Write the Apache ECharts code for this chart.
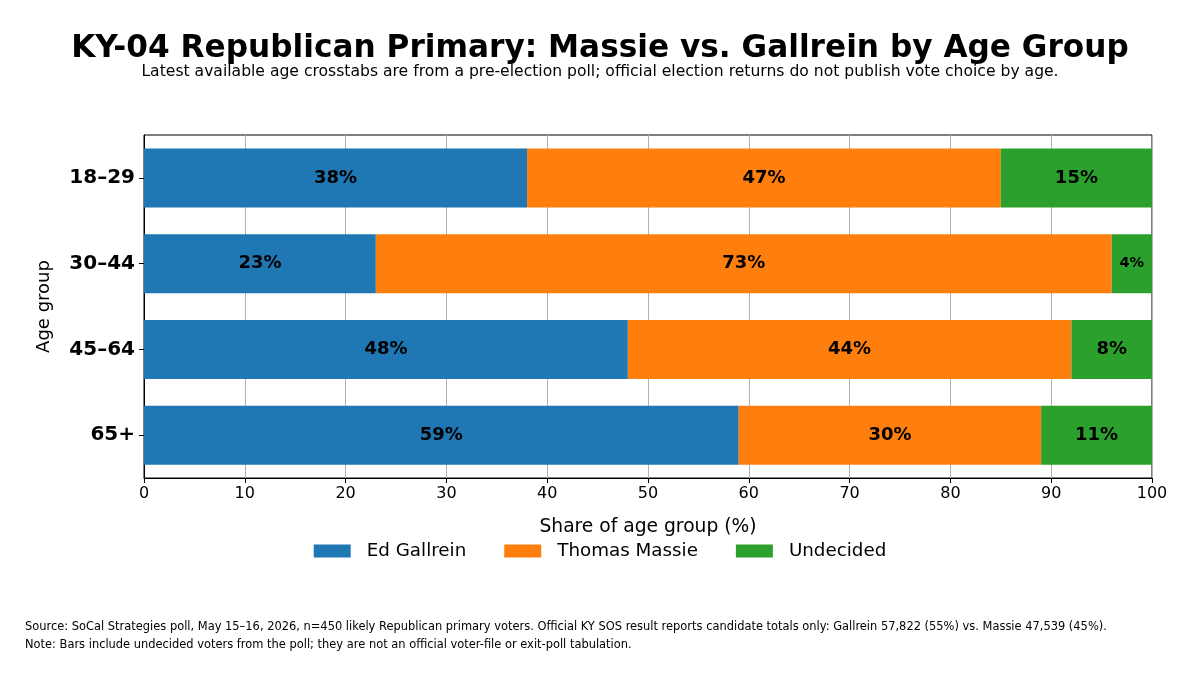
<!DOCTYPE html>
<html lang="en">
<head>
<meta charset="utf-8" />
<title>KY-04 Republican Primary by Age Group</title>
<script src="https://cdn.jsdelivr.net/npm/echarts@6/dist/echarts.min.js"></script>
<style>
  html, body { margin: 0; padding: 0; background: #fff; }
  #chart { width: 1200px; height: 675px; }
</style>
</head>
<body>
<div id="chart"></div>
<script type="text/javascript">
var ageGroups = ['18–29', '30–44', '45–64', '65+'];
var gallrein = [38, 23, 48, 59];
var massie = [47, 73, 44, 30];
var undecided = [15, 4, 8, 11];
var xTicks = [0, 10, 20, 30, 40, 50, 60, 70, 80, 90, 100];

var FONT = 'DejaVu Sans';

function barLabel(size) {
  return {
    show: true,
    position: 'inside',
    formatter: '{c}%',
    color: '#000',
    fontFamily: FONT,
    fontWeight: 'bold',
    fontSize: size
  };
}

function stackSeries(name, values, color) {
  return {
    name: name,
    type: 'bar',
    stack: 'total',
    barWidth: 59,
    itemStyle: { color: color },
    label: barLabel(18),
    data: values.map(function (v) {
      // small segments get a smaller label, as in the original
      if (v < 5) return { value: v, label: { fontSize: 14.5 } };
      return v;
    })
  };
}

var chart = echarts.init(document.getElementById('chart'));
chart.setOption({
  animation: false,
  textStyle: { fontFamily: FONT },
  title: [
    {
      text: 'KY-04 Republican Primary: Massie vs. Gallrein by Age Group',
      left: 'center', top: 28,
      textStyle: { fontFamily: FONT, fontSize: 31.2, fontWeight: 'bold', color: '#000' }
    },
    {
      text: 'Latest available age crosstabs are from a pre-election poll; official election returns do not publish vote choice by age.',
      left: 'center', top: 59,
      textStyle: { fontFamily: FONT, fontSize: 15.6, fontWeight: 'normal', color: '#000' }
    },
    {
      text: 'Source: SoCal Strategies poll, May 15–16, 2026, n=450 likely Republican primary voters. Official KY SOS result reports candidate totals only: Gallrein 57,822 (55%) vs. Massie 47,539 (45%).\nNote: Bars include undecided voters from the poll; they are not an official voter-file or exit-poll tabulation.',
      left: 20, top: 613,
      textStyle: { fontFamily: FONT, fontSize: 11.45, fontWeight: 'normal', color: '#000', lineHeight: 18 }
    }
  ],
  legend: {
    top: 537, left: 'center',
    itemWidth: 37, itemHeight: 13, itemGap: 38,
    icon: 'rect',
    textStyle: { fontFamily: FONT, fontSize: 18.3, color: '#000', padding: [0, 0, 0, 11] },
    data: ['Ed Gallrein', 'Thomas Massie', 'Undecided']
  },
  grid: {
    left: 144, right: 48, top: 135, bottom: 197,
    show: true, borderColor: '#000', borderWidth: 1, backgroundColor: 'transparent'
  },
  xAxis: {
    type: 'value', min: 0, max: 100, interval: 10,
    name: 'Share of age group (%)', nameLocation: 'middle', nameGap: 40,
    nameTextStyle: { fontFamily: FONT, fontSize: 18.7, color: '#000' },
    axisLine: { show: true, lineStyle: { color: '#000' } },
    axisTick: { show: true, length: 5, lineStyle: { color: '#000' } },
    axisLabel: {
      fontFamily: FONT, fontSize: 16, color: '#000', margin: 8,
      formatter: function (v) { return xTicks.indexOf(v) >= 0 ? String(v) : ''; }
    },
    splitLine: { show: true, lineStyle: { color: '#b0b0b0', width: 1 } }
  },
  yAxis: {
    type: 'category', data: ageGroups, inverse: true,
    name: 'Age group', nameLocation: 'middle', nameGap: 91, nameRotate: 90,
    nameTextStyle: { fontFamily: FONT, fontSize: 18, color: '#000' },
    axisLine: { show: true, lineStyle: { color: '#000' } },
    axisTick: { show: true, alignWithLabel: true, length: 5, lineStyle: { color: '#000' } },
    axisLabel: { fontFamily: FONT, fontSize: 20, fontWeight: 'bold', color: '#000', margin: 9 },
    splitLine: { show: false }
  },
  series: [
    stackSeries('Ed Gallrein', gallrein, '#1f77b4'),
    stackSeries('Thomas Massie', massie, '#ff7f0e'),
    stackSeries('Undecided', undecided, '#2ca02c')
  ]
});
</script>
</body>
</html>
